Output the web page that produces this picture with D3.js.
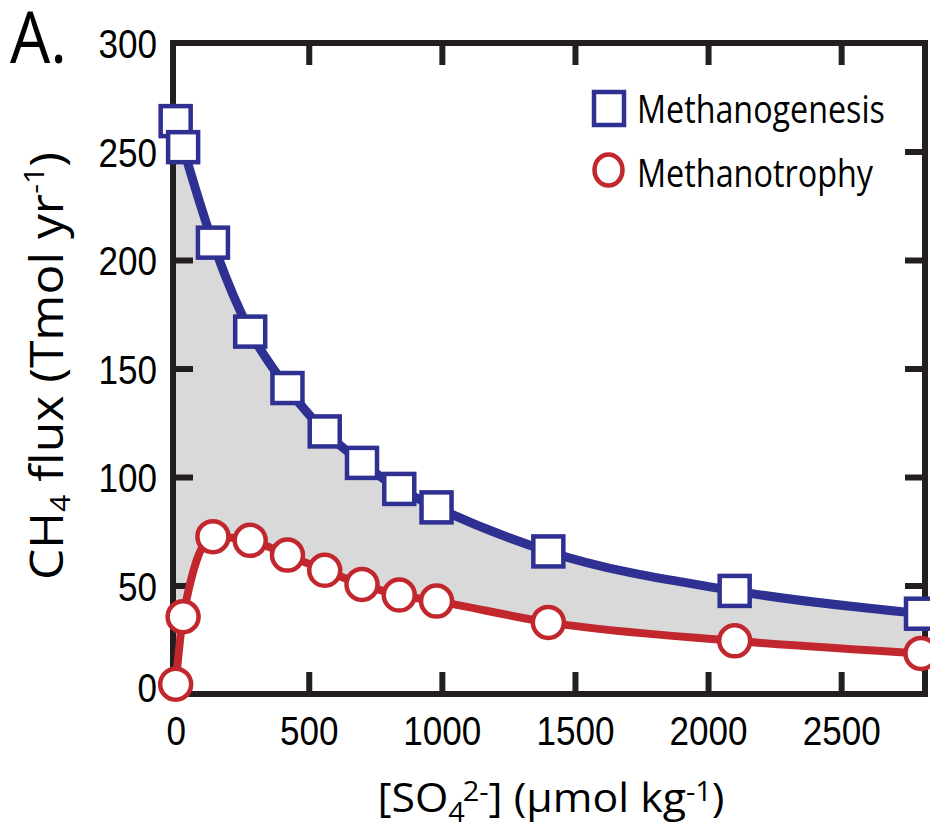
<!DOCTYPE html>
<html>
<head>
<meta charset="utf-8">
<script src="https://cdn.jsdelivr.net/npm/d3@7"></script>
<style>
  body { margin: 0; background: #fff; }
  svg { display: block; font-family: "Open Sans", "Noto Sans", sans-serif; }
</style>
</head>
<body>
<div id="chart"></div>
<script>
// sulfate concentration (µmol/kg) and CH4 fluxes (Tmol/yr)
const sulfate = [0, 28, 140, 280, 420, 560, 700, 840, 980, 1400, 2100, 2800];
const methanogenesis = [264, 252, 208, 167, 141, 121, 106.5, 94.5, 86, 65.7, 47.5, 37];
const methanotrophy = [4.5, 35.6, 72.5, 70.8, 64, 57, 50.5, 45.6, 42.8, 33, 24.5, 18.7];

const xTicks = [0, 500, 1000, 1500, 2000, 2500];
const yTicks = [0, 50, 100, 150, 200, 250, 300];

const blue = "#2e3192", red = "#c1272d", ink = "#231f20";

const width = 930, height = 825;
const frame = { left: 173, right: 925, top: 43, bottom: 694 };

const svg = d3.select("#chart").append("svg")
    .attr("width", width)
    .attr("height", height);

const x = d3.scaleLinear().domain([-10, 2815]).range([frame.left, frame.right]);
const y = d3.scaleLinear().domain([0, 300]).range([frame.bottom, frame.top]);

const rows = sulfate.map((s, i) => ({ s: s, gen: methanogenesis[i], tro: methanotrophy[i] }));

// grey band between the two fluxes
svg.append("path")
    .datum(rows)
    .attr("fill", "#d9d9d9")
    .attr("d", d3.area()
        .x(d => x(d.s))
        .y0(d => y(d.tro))
        .y1(d => y(d.gen))
        .curve(d3.curveMonotoneX));

// ticks pointing inward on all four sides
const fmt = d3.format("d");
function styleAxis(g) {
    g.select(".domain").remove();
    g.selectAll(".tick line").attr("stroke", ink).attr("stroke-width", 6);
    g.selectAll(".tick text")
        .attr("fill", "#000")
        .attr("font-size", 41)
        .attr("lengthAdjust", "spacingAndGlyphs")
        .attr("textLength", d => fmt(d).length * 19.5);
}

svg.append("g")
    .attr("transform", "translate(0," + frame.bottom + ")")
    .call(d3.axisBottom(x).tickValues(xTicks).tickSize(-22).tickFormat(fmt))
    .call(styleAxis)
    .call(g => g.selectAll(".tick text").attr("y", 51).attr("dy", null));

svg.append("g")
    .attr("transform", "translate(0," + frame.top + ")")
    .call(d3.axisTop(x).tickValues(xTicks).tickSize(-22).tickFormat(""))
    .call(styleAxis);

svg.append("g")
    .attr("transform", "translate(" + frame.left + ",0)")
    .call(d3.axisLeft(y).tickValues(yTicks).tickSize(-20).tickFormat(fmt))
    .call(styleAxis)
    .call(g => g.selectAll(".tick text").attr("x", -16).attr("dy", "0.36em"))
    // the zero label sits a little above the corner
    .call(g => g.selectAll(".tick text").filter(d => d === 0).attr("y", -7));

svg.append("g")
    .attr("transform", "translate(" + frame.right + ",0)")
    .call(d3.axisRight(y).tickValues(yTicks).tickSize(-20).tickFormat(""))
    .call(styleAxis);

// hide the tick stubs that sit on the frame corners
svg.selectAll(".tick").filter(d => d === 0 || d === 300).select("line").remove();

svg.append("rect")
    .attr("x", frame.left).attr("y", frame.top)
    .attr("width", frame.right - frame.left).attr("height", frame.bottom - frame.top)
    .attr("fill", "none")
    .attr("stroke", ink)
    .attr("stroke-width", 6);

// lines
const lineGen = d3.line().x(d => x(d.s)).y(d => y(d.gen)).curve(d3.curveMonotoneX);
const lineTro = d3.line().x(d => x(d.s)).y(d => y(d.tro)).curve(d3.curveMonotoneX);

svg.append("path").datum(rows)
    .attr("fill", "none").attr("stroke", blue).attr("stroke-width", 9)
    .attr("stroke-linejoin", "round")
    .attr("d", lineGen);

svg.append("path").datum(rows)
    .attr("fill", "none").attr("stroke", red).attr("stroke-width", 8)
    .attr("stroke-linejoin", "round")
    .attr("d", lineTro);

// markers
const sq = 30;
svg.append("g").selectAll("rect")
    .data(rows)
    .join("rect")
    .attr("x", d => x(d.s) - sq / 2)
    .attr("y", d => y(d.gen) - sq / 2)
    .attr("width", sq).attr("height", sq)
    .attr("fill", "#fff").attr("stroke", blue).attr("stroke-width", 4.5);

svg.append("g").selectAll("circle")
    .data(rows)
    .join("circle")
    .attr("cx", d => x(d.s))
    .attr("cy", d => y(d.tro))
    .attr("r", 15.5)
    .attr("fill", "#fff").attr("stroke", red).attr("stroke-width", 4.5);

// legend
const legend = svg.append("g");
legend.append("rect")
    .attr("x", 594).attr("y", 92).attr("width", 30).attr("height", 33)
    .attr("fill", "#fff").attr("stroke", blue).attr("stroke-width", 4.5);
legend.append("ellipse")
    .attr("cx", 608.5).attr("cy", 170).attr("rx", 14).attr("ry", 15.5)
    .attr("fill", "#fff").attr("stroke", red).attr("stroke-width", 4.5);
legend.append("text")
    .attr("x", 637).attr("y", 123)
    .attr("font-size", 39)
    .attr("lengthAdjust", "spacingAndGlyphs").attr("textLength", 248)
    .text("Methanogenesis");
legend.append("text")
    .attr("x", 637).attr("y", 187)
    .attr("font-size", 39)
    .attr("lengthAdjust", "spacingAndGlyphs").attr("textLength", 236)
    .text("Methanotrophy");

// panel letter
svg.append("text")
    .attr("x", 10).attr("y", 63)
    .attr("font-size", 71)
    .attr("lengthAdjust", "spacingAndGlyphs").attr("textLength", 57)
    .text("A.");

// x axis title
const xt = svg.append("text")
    .attr("x", 551).attr("y", 812)
    .attr("text-anchor", "middle")
    .attr("font-size", 40)
    .attr("lengthAdjust", "spacingAndGlyphs").attr("textLength", 347);
xt.append("tspan").text("[SO");
xt.append("tspan").attr("font-size", 27).attr("dy", 10).text("4");
xt.append("tspan").attr("font-size", 27).attr("dy", -21).attr("dx", -2).text("2-");
xt.append("tspan").attr("dy", 11).text("] (µmol kg");
xt.append("tspan").attr("font-size", 27).attr("dy", -11).text("-1");
xt.append("tspan").attr("dy", 11).text(")");

// y axis title
const yt = svg.append("text")
    .attr("transform", "translate(63,366) rotate(-90)")
    .attr("text-anchor", "middle")
    .attr("font-size", 46)
    .attr("lengthAdjust", "spacingAndGlyphs").attr("textLength", 428);
yt.append("tspan").text("CH");
yt.append("tspan").attr("font-size", 28).attr("dy", 7).text("4");
yt.append("tspan").attr("dy", -7).text(" flux (Tmol yr");
yt.append("tspan").attr("font-size", 28).attr("dy", -19).text("-1");
yt.append("tspan").attr("dy", 19).text(")");
</script>
</body>
</html>
